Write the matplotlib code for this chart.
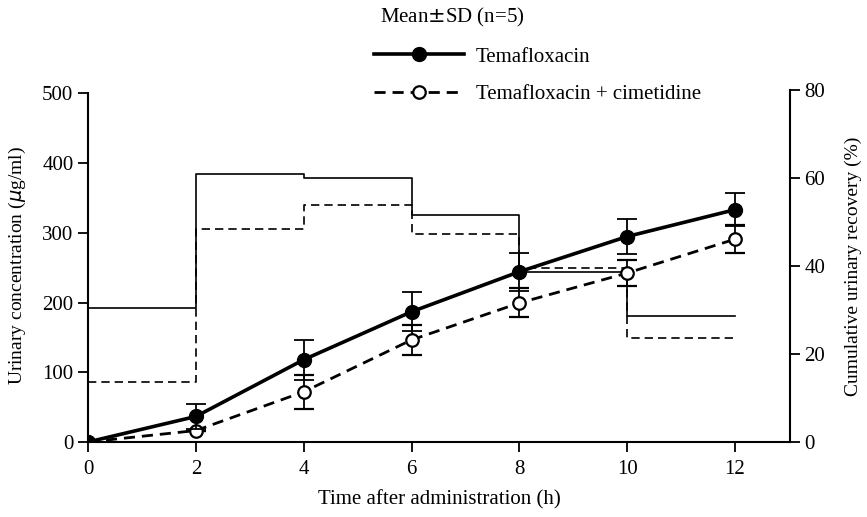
import matplotlib
matplotlib.use("Agg")
import matplotlib.pyplot as plt
from matplotlib.lines import Line2D

plt.rcParams['font.family'] = ['Liberation Serif', 'DejaVu Serif']

# --- data ---
time_h = [0, 2, 4, 6, 8, 10, 12]
# cumulative urinary recovery (%) - right axis
tema_rec = [0, 5.8, 18.7, 29.6, 38.7, 46.7, 52.8]
tema_sd = [0, 2.9, 4.5, 4.4, 4.3, 3.9, 3.8]
cim_rec = [0, 2.6, 11.4, 23.2, 31.6, 38.4, 46.1]
cim_sd = [0, 0, 3.9, 3.4, 3.3, 3.0, 3.2]
# urinary concentration (ug/ml) per interval - left axis
interval_edges = [0, 2, 4, 6, 8, 10, 12]
tema_conc = [192, 384, 379, 326, 244, 181]
cim_conc = [86, 305, 340, 298, 250, 149]

left_ticks = [0, 100, 200, 300, 400, 500]
right_ticks = [0, 20, 40, 60, 80]
x_ticks = [0, 2, 4, 6, 8, 10, 12]

fig = plt.figure(figsize=(8.67, 5.17), dpi=100)
ax = fig.add_axes([88/867, 75/517, (790-88)/867, (443-91)/517])
ax2 = ax.twinx()

# step lines (concentration)
ax.step(interval_edges, tema_conc + [tema_conc[-1]], where='post', color='black', lw=1.2)
ax.step(interval_edges, cim_conc + [cim_conc[-1]], where='post', color='black', lw=1.2,
        linestyle=(0, (5, 3)))

ax.set_xlim(0, 13.02)
ax.set_ylim(0, 505)
ax.set_xticks(x_ticks)
ax.set_yticks(left_ticks)
ax.spines['top'].set_visible(False)
ax.spines['right'].set_visible(False)
ax.spines['left'].set_bounds(0, 500)
for s in ['left', 'bottom']:
    ax.spines[s].set_linewidth(1.5)
ax.tick_params(axis='both', direction='out', length=7, width=1.3, labelsize=15)
ax.tick_params(axis='x', pad=6)

# cumulative recovery
ax2.errorbar(time_h, cim_rec, yerr=cim_sd, color='black', lw=2.0, linestyle=(0, (4, 2.5)),
             marker='o', markersize=9, markerfacecolor='white', markeredgecolor='black',
             markeredgewidth=1.6, ecolor='black', elinewidth=1.3, capsize=7, capthick=1.3,
             zorder=3)
ax2.errorbar(time_h, tema_rec, yerr=tema_sd, color='black', lw=2.6,
             marker='o', markersize=10, markerfacecolor='black', markeredgecolor='black',
             ecolor='black', elinewidth=1.3, capsize=7, capthick=1.3, zorder=4)
ax2.set_ylim(0, 80)
ax2.set_yticks(right_ticks)
ax2.spines['top'].set_visible(False)
ax2.spines['left'].set_visible(False)
ax2.spines['bottom'].set_visible(False)
ax2.spines['right'].set_bounds(0, 80)
ax2.spines['right'].set_linewidth(1.5)
ax2.tick_params(axis='y', direction='out', length=7, width=1.3, labelsize=15)

ax.set_xlabel('Time after administration (h)', fontsize=15, labelpad=8)
ax.set_ylabel('Urinary concentration ($\\mu$g/ml)', fontsize=14, labelpad=10)
ax2.set_ylabel('Cumulative urinary recovery (%)', fontsize=14, labelpad=14)

# legend
fig.text(380/867, 1 - 17/517, 'Mean$\\pm$SD (n=5)', fontsize=15, va='center', ha='left')
h1 = Line2D([], [], color='black', lw=2.6, marker='o', markersize=10)
h2 = Line2D([], [], color='black', lw=2.0, linestyle=(0, (4, 2.5)), marker='o', markersize=9,
            markerfacecolor='white', markeredgewidth=1.6)
fig.legend([h1, h2], ['Temafloxacin', 'Temafloxacin + cimetidine'],
           loc='upper left', bbox_to_anchor=(374/867, 1 - 47/517), frameon=False,
           fontsize=15, handlelength=4.3, labelspacing=0.85, handletextpad=0.6,
           borderaxespad=0, borderpad=0)

fig.savefig('out.png', dpi=100)
